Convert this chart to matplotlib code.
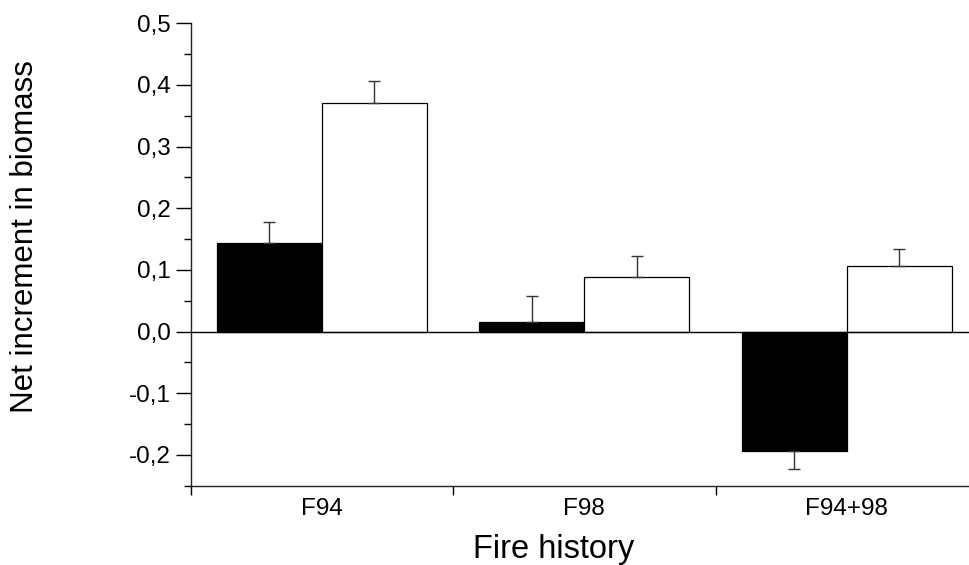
import numpy as np
import matplotlib.pyplot as plt
from matplotlib.ticker import MultipleLocator, FuncFormatter

plt.rcParams['font.family'] = ['Liberation Sans', 'DejaVu Sans']

# Net biomass increment per fire history, two treatments
groups = ["F94", "F98", "F94+98"]
dark_vals = [0.144, 0.016, -0.193]
dark_err = [0.033, 0.041, 0.030]
light_vals = [0.370, 0.088, 0.107]
light_err = [0.037, 0.035, 0.027]

x = np.arange(len(groups))
width = 0.4

fig = plt.figure(figsize=(9.7, 5.65), dpi=100)
ax = fig.add_axes([190.75 / 970, 1 - 485.7 / 565, (978 - 190.75) / 970, (485.7 - 23.3) / 565])

# one-sided error bars: up for positive bars, down for negative ones
def one_sided(vals, errs):
    lo = [e if v < 0 else 0 for v, e in zip(vals, errs)]
    hi = [e if v >= 0 else 0 for v, e in zip(vals, errs)]
    return [lo, hi]

ax.bar(x - width / 2, dark_vals, width, color='black', edgecolor='black', linewidth=0.9, zorder=2)
ax.bar(x + width / 2, light_vals, width, color='white', edgecolor='black', linewidth=0.9, zorder=2)
ax.errorbar(x - width / 2, dark_vals, yerr=one_sided(dark_vals, dark_err), fmt='none',
            ecolor='#333333', elinewidth=1, capsize=4, capthick=1, zorder=3)
ax.errorbar(x + width / 2, light_vals, yerr=one_sided(light_vals, light_err), fmt='none',
            ecolor='#333333', elinewidth=1, capsize=4, capthick=1, zorder=3)
ax.axhline(0, color='black', linewidth=1, zorder=4)

ax.set_xlim(-0.5, 2.5)
ax.set_ylim(-0.25, 0.5)

for side in ('top', 'right'):
    ax.spines[side].set_visible(False)
for side in ('left', 'bottom'):
    ax.spines[side].set_linewidth(1)
    ax.spines[side].set_color('#222222')

ax.yaxis.set_major_locator(MultipleLocator(0.1))
ax.yaxis.set_minor_locator(MultipleLocator(0.05))
ax.yaxis.set_major_formatter(FuncFormatter(lambda v, p: f"{v:.1f}".replace('.', ',').replace('-0,0', '0,0')))
ax.tick_params(axis='y', which='major', direction='out', length=10.5, width=1, labelsize=17.5, pad=4)
ax.tick_params(axis='y', which='minor', direction='out', length=5.3, width=1)

ax.set_xticks([-0.5, 0.5, 1.5, 2.5])
ax.set_xticklabels([])
ax.set_xticks(x, minor=True)
ax.set_xticklabels(groups, minor=True)
ax.tick_params(axis='x', which='major', direction='out', length=6.5, width=1)
ax.tick_params(axis='x', which='minor', length=0, labelsize=17.5, pad=9)

ax.set_xlabel("Fire history", fontsize=23.5)
ax.xaxis.set_label_coords(0.461, -0.105)
ax.set_ylabel("Net increment in biomass", fontsize=22.5)
ax.yaxis.set_label_coords(-0.192, 0.538)

fig.savefig("out.png", dpi=100)
